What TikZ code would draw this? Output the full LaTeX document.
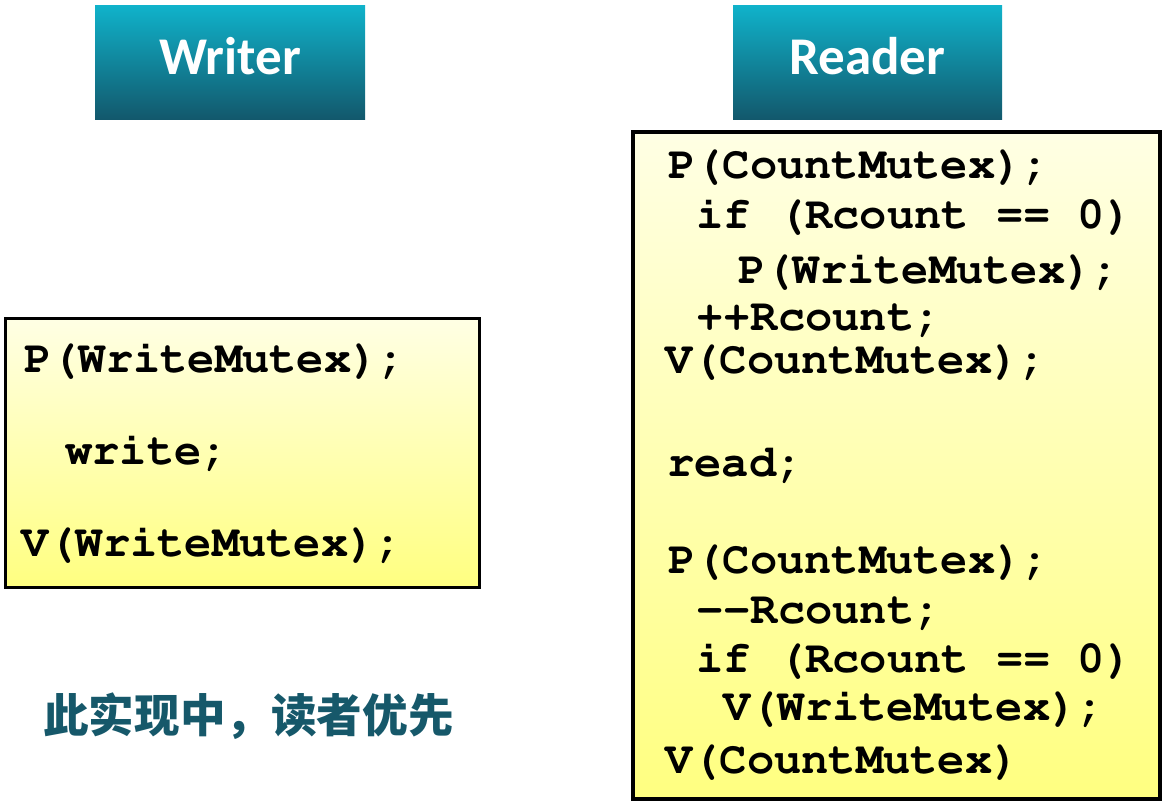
\documentclass[tikz,border=0pt]{standalone}
\usepackage[T1,TU]{fontenc}
\usepackage{fontspec}
\setmonofont{Liberation Mono}
\setsansfont{Carlito}
\newfontfamily\cjk{Noto Sans CJK SC}
\newcommand\courfont{\fontencoding{T1}\fontfamily{pcr}\fontseries{b}\fontshape{n}\selectfont}
\definecolor{hdtop}{RGB}{16,178,202}
\definecolor{hdbot}{RGB}{18,88,108}
\definecolor{cbtop}{RGB}{255,255,228}
\definecolor{cbbot}{RGB}{255,255,128}
\definecolor{notecol}{RGB}{22,88,106}
\tikzset{
  header/.style={rectangle, draw=none, inner sep=0pt, top color=hdtop, bottom color=hdbot},
  headtext/.style={anchor=base, inner sep=0pt, text=white, font=\sffamily\bfseries\fontsize{26.5}{30}\selectfont},
  codebox/.style={rectangle, draw=black, line width=1.8pt, inner sep=0pt, top color=cbtop, bottom color=cbbot},
  code/.style={anchor=base west, inner sep=0pt, font=\courfont\fontsize{22.7}{26}\selectfont},
  note/.style={inner sep=0pt, text=notecol, font=\cjk\bfseries\fontsize{22.8}{26}\selectfont}
}
\begin{document}
\begin{tikzpicture}[x=0.5pt,y=-0.5pt]
\useasboundingbox (0,0) rectangle (1170,808);
% headers
\node[header, minimum width=135pt, minimum height=56.5pt] (wh) at (230,62.5) {};
\node[headtext] (wht) at (230,75) {Writer};
\node[header, minimum width=134.5pt, minimum height=56.5pt] (rh) at (867.5,62.5) {};
\node[headtext] (rht) at (867.5,75) {Reader};
% writer box
\node[codebox, minimum width=237pt, minimum height=134.5pt] (wb) at (242.5,453) {};
\node[code] (w1) at (24,372) {P(WriteMutex);};
\node[code] (w2) at (65,464) {write;};
\node[code] (w3) at (21,556) {V(WriteMutex);};
% reader box
\node[codebox, minimum width=263.5pt, minimum height=333.5pt] (rb) at (896.5,465.5) {};
\node[code] (r1) at (668,178) {P(CountMutex);};
\node[code] (r2) at (696,228) {if (Rcount == 0)};
\node[code] (r3) at (738,283) {P(WriteMutex);};
\node[code] (r4) at (696,330) {++Rcount;};
\node[code] (r5) at (665,373) {V(CountMutex);};
\node[code] (r6) at (667,476) {read;};
\node[code] (r7) at (668,573) {P(CountMutex);};
\node[code] (r8) at (696,623) {-{}-Rcount;};
\node[code] (r9) at (696,672) {if (Rcount == 0)};
\node[code] (r10) at (723,720) {V(WriteMutex);};
\node[code] (r11) at (665,773) {V(CountMutex)};
% note
\node[note] (nt) at (248.5,716) {此实现中，读者优先};
\end{tikzpicture}
\end{document}
